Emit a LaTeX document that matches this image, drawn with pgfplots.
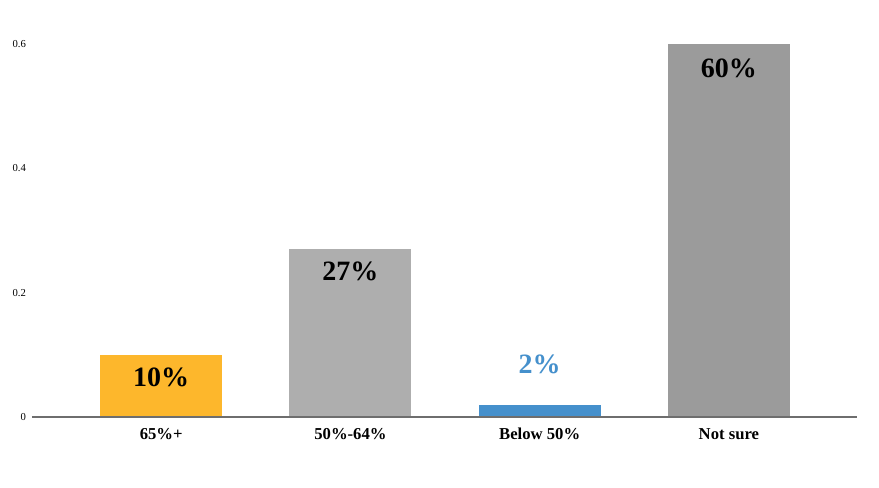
\documentclass[border=0pt]{standalone}
\usepackage{pgfplots}
\pgfplotsset{compat=1.18}
\usepackage{fontspec}
\setmainfont{Liberation Serif}
\definecolor{cyel}{HTML}{FDB72C}
\definecolor{clgray}{HTML}{AEAEAE}
\definecolor{cblue}{HTML}{4590CC}
\definecolor{cdgray}{HTML}{9B9B9B}
\definecolor{caxis}{HTML}{6E6E6E}
\begin{document}
\begin{tikzpicture}[x=0.75pt,y=0.75pt]
\path[use as bounding box] (0,0) rectangle (879,488);
\begin{axis}[
  at={(24pt,53.25pt)}, anchor=south west,
  scale only axis,
  width=618.75pt, height=279.75pt,
  xmin=-0.683, xmax=3.677,
  ymin=0, ymax=0.6,
  axis line style={draw=none},
  axis x line*=bottom,
  axis y line*=left,
  ytick={0,0.2,0.4,0.6},
  yticklabels={0,0.2,0.4,0.6},
  yticklabel style={font=\fontsize{8}{9}\selectfont, xshift=-1pt},
  xtick={0,1,2,3},
  xticklabels={65\%+,50\%-64\%,Below 50\%,Not sure},
  major tick length=0pt,
  xticklabel style={font=\fontsize{12.5}{14}\selectfont\bfseries, yshift=-5pt, text depth=0.25em},
  ybar, bar width=91.5pt, bar shift=0pt,
  clip=false,
  point meta=explicit symbolic,
  nodes near coords,
  every node near coord/.append style={font=\fontsize{21}{24}\selectfont\bfseries, anchor=center},
]
\addplot[fill=cyel, draw=none, nodes near coords style={yshift=-17pt}] coordinates {(0,0.10) [10\%]};
\addplot[fill=clgray, draw=none, nodes near coords style={yshift=-16.5pt}] coordinates {(1,0.27) [27\%]};
\addplot[fill=cblue, draw=none, nodes near coords style={yshift=30pt, text=cblue}] coordinates {(2,0.02) [2\%]};
\addplot[fill=cdgray, draw=none, nodes near coords style={yshift=-18pt}] coordinates {(3,0.60) [60\%]};
\draw[caxis, line width=0.9pt] (axis cs:-0.683,0) -- (axis cs:3.677,0);
\end{axis}
\end{tikzpicture}
\end{document}
